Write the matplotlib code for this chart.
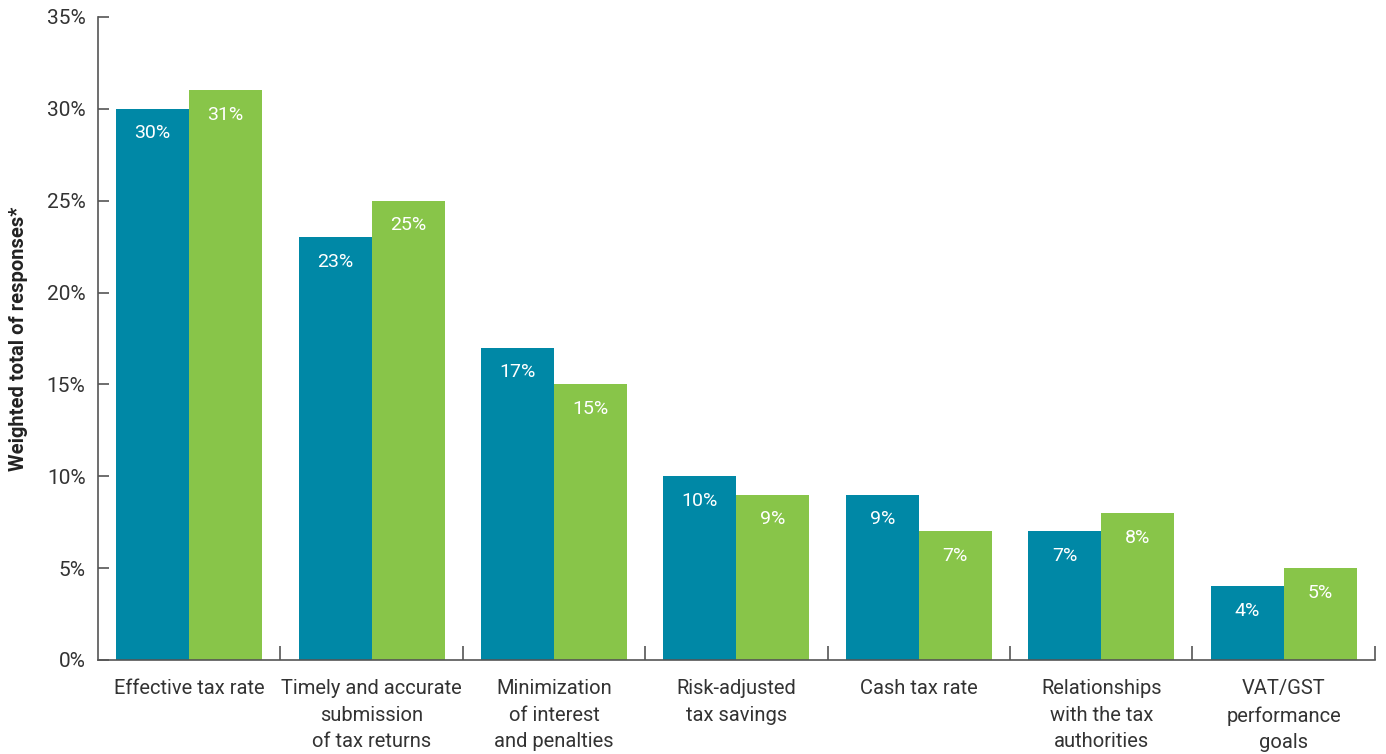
import numpy as np
import matplotlib.pyplot as plt
from matplotlib import font_manager

categories = ['Effective tax rate', 'Timely and accurate\nsubmission\nof tax returns',
              'Minimization\nof interest\nand penalties', 'Risk-adjusted\ntax savings',
              'Cash tax rate', 'Relationships\nwith the tax\nauthorities',
              'VAT/GST\nperformance\ngoals']
teal_vals = [30, 23, 17, 10, 9, 7, 4]
green_vals = [31, 25, 15, 9, 7, 8, 5]
yticks = [0, 5, 10, 15, 20, 25, 30, 35]

names = {f.name for f in font_manager.fontManager.ttflist}
fam = 'Liberation Sans Narrow' if 'Liberation Sans Narrow' in names else 'Roboto'
plt.rcParams['font.family'] = [fam, 'DejaVu Sans']

teal = '#0088a6'
green = '#88c549'
txt = '#333333'

fig = plt.figure(figsize=(13.86, 7.54), dpi=100)
ax = fig.add_axes([0.0707, 0.1247, 0.9213, 0.8528])

x = np.arange(len(categories))
w = 0.4
b1 = ax.bar(x - w / 2, teal_vals, w, color=teal)
b2 = ax.bar(x + w / 2, green_vals, w, color=green)

for bars, vals in ((b1, teal_vals), (b2, green_vals)):
    for r, v in zip(bars, vals):
        ax.text(r.get_x() + r.get_width() / 2, v - 0.85, f'{v}%', ha='center', va='top',
                color='white', fontsize=14)

ax.set_xlim(-0.5, len(categories) - 0.5)
ax.set_ylim(0, 35)
ax.set_yticks(yticks)
ax.set_yticklabels([f'{t}%' for t in yticks], fontsize=15, color=txt)
ax.tick_params(axis='y', direction='in', length=8, width=1.2, color='#555555', pad=9)

# group separators on the x axis
ax.set_xticks(np.arange(len(categories)) + 0.5, minor=True)
ax.set_xticks(x)
ax.set_xticklabels(categories, fontsize=14.5, color=txt, linespacing=1.5, va='top')
ax.tick_params(axis='x', which='major', length=0, pad=14)
ax.tick_params(axis='x', which='minor', direction='in', length=10, width=1.2, color='#555555')

for s in ('top', 'right'):
    ax.spines[s].set_visible(False)
for s in ('left', 'bottom'):
    ax.spines[s].set_color('#555555')
    ax.spines[s].set_linewidth(1.2)

ax.set_ylabel('Weighted total of responses*', fontsize=14.5, fontweight='bold', color='#222222')
ax.yaxis.set_label_coords(-0.055, 0.5)

fig.savefig('out.png', dpi=100)
